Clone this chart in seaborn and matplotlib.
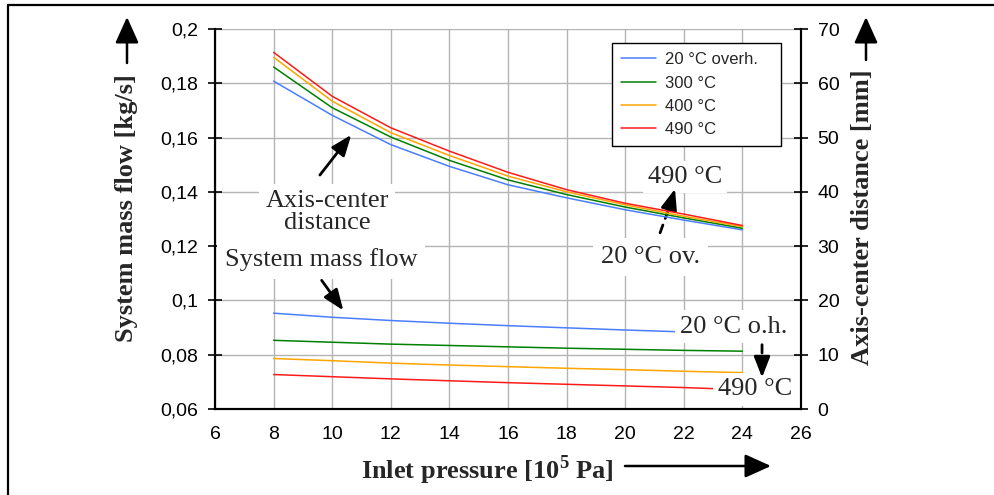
import seaborn as sns
import matplotlib.pyplot as plt
from matplotlib.lines import Line2D
from matplotlib.patches import FancyArrowPatch
from matplotlib.ticker import FuncFormatter

# inlet pressure [10^5 Pa]
pressure = [8, 10, 12, 14, 16, 18, 20, 22, 24]

# axis-center distance [mm], right axis
dist_20 = [60.4, 54.1, 48.7, 44.7, 41.3, 38.9, 36.7, 34.8, 33.0]
dist_300 = [63.0, 55.5, 50.1, 45.8, 42.2, 39.5, 37.2, 35.2, 33.3]
dist_400 = [64.8, 56.7, 50.9, 46.7, 42.9, 40.0, 37.6, 35.5, 33.6]
dist_490 = [65.7, 57.6, 51.8, 47.5, 43.6, 40.4, 37.9, 35.9, 33.8]

# system mass flow [kg/s], left axis (series end at different pressures)
p_flow_20 = [8, 10, 12, 14, 16, 18, 20, 22]
flow_20 = [0.0953, 0.0938, 0.0926, 0.0916, 0.0907, 0.0899, 0.0891, 0.0884]
p_flow_300 = [8, 10, 12, 14, 16, 18, 20, 22, 24]
flow_300 = [0.0853, 0.0846, 0.0839, 0.0834, 0.0829, 0.0824, 0.0820, 0.0816, 0.0813]
p_flow_400 = [8, 10, 12, 14, 16, 18, 20, 22, 24]
flow_400 = [0.0786, 0.0778, 0.0769, 0.0762, 0.0756, 0.0750, 0.0745, 0.0739, 0.0734]
p_flow_490 = [8, 10, 12, 14, 16, 18, 20, 22, 23]
flow_490 = [0.0727, 0.0719, 0.0711, 0.0704, 0.0697, 0.0691, 0.0685, 0.0679, 0.0675]

labels = ['20 °C overh.', '300 °C', '400 °C', '490 °C']
colors = ['#4a7dff', '#008000', '#ffa500', '#ff1a1a']

sns.set_style('white')
plt.rcParams['font.family'] = ['Liberation Sans', 'DejaVu Sans']
plt.rcParams['mathtext.fontset'] = 'custom'
plt.rcParams['mathtext.rm'] = 'Liberation Serif'
plt.rcParams['mathtext.bf'] = 'Liberation Serif:bold'

W, H = 995, 495
fig = plt.figure(figsize=(W / 100, H / 100), dpi=100)
ax = fig.add_axes([215 / W, 1 - 409 / H, 586 / W, 380 / H])
ax2 = ax.twinx()

flows = [(p_flow_20, flow_20), (p_flow_300, flow_300), (p_flow_400, flow_400), (p_flow_490, flow_490)]
dists = [dist_20, dist_300, dist_400, dist_490]

for (px, fy), c in zip(flows, colors):
    sns.lineplot(x=px, y=fy, ax=ax, color=c, linewidth=1.1, legend=False)
for d, c, lab in zip(dists, colors, labels):
    sns.lineplot(x=pressure, y=d, ax=ax2, color=c, linewidth=1.1, label=lab)

# axes ranges and ticks
ax.set_xlim(6, 26)
ax.set_ylim(0.06, 0.2)
ax2.set_ylim(0, 70)
ax.set_xticks(range(6, 27, 2))
ax.set_yticks([0.06, 0.08, 0.1, 0.12, 0.14, 0.16, 0.18, 0.2])
ax2.set_yticks(range(0, 71, 10))
comma = FuncFormatter(lambda v, pos: f"{v:g}".replace('.', ','))
ax.yaxis.set_major_formatter(comma)

ax.grid(True, color='#b4b4b4', linewidth=1.0)
ax2.grid(False)
ax.set_xlabel('')
ax.set_ylabel('')
ax2.set_ylabel('')

for a in (ax, ax2):
    a.spines['top'].set_visible(False)
    for s in ('left', 'right', 'bottom'):
        a.spines[s].set_linewidth(1.5)
        a.spines[s].set_color('black')
ax.tick_params(axis='both', direction='inout', length=10, width=1.2, labelsize=14, pad=7, colors='black')
ax2.tick_params(axis='y', direction='inout', length=10, width=1.2, labelsize=14, pad=7, colors='black')

# legend box stretched to the reference width
leg = ax2.legend(loc='upper left', bbox_to_anchor=(0.6775, 0.5, 0.288, 0.463), mode='expand',
                 borderaxespad=0, fontsize=12, fancybox=False, edgecolor='black', framealpha=1,
                 handlelength=2.1, labelspacing=0.5, borderpad=0.55, handletextpad=0.5)
leg.get_frame().set_linewidth(1.0)

# annotations
serif = 'Liberation Serif'
fs = 19
box = dict(boxstyle='square,pad=0.2', facecolor='white', edgecolor='none')
arrow = dict(arrowstyle='-|>,head_length=0.9,head_width=0.35', color='black', lw=2, mutation_scale=14,
             shrinkA=0, shrinkB=0)
dashed = dict(arrowstyle='-', color='black', lw=2, linestyle=(0, (3, 2.5)), shrinkA=0, shrinkB=0)

ax.text(9.82, 0.1326, 'Axis-center\ndistance', ha='center', va='center', family=serif,
        fontsize=fs, linespacing=0.95, bbox=dict(boxstyle='square,pad=0.25', facecolor='white', edgecolor='none'),
        zorder=5)
ax.annotate('', xy=(10.65, 0.161), xytext=(9.58, 0.1462), arrowprops=arrow, zorder=6)

ax.text(9.62, 0.1152, 'System mass flow', ha='center', va='center', family=serif,
        fontsize=fs, bbox=dict(boxstyle='square,pad=0.3', facecolor='white', edgecolor='none'), zorder=5)
ax.annotate('', xy=(10.38, 0.0963), xytext=(9.64, 0.1074), arrowprops=arrow, zorder=6)

ax.text(22.04, 0.1455, '490 °C', ha='center', va='center', family=serif, fontsize=fs, bbox=box, zorder=5)
ax.text(20.85, 0.1161, '20 °C ov.', ha='center', va='center', family=serif, fontsize=fs,
        bbox=dict(boxstyle='square,pad=0.3', facecolor='white', edgecolor='none'), zorder=5)
ax.annotate('', xy=(21.55, 0.1357), xytext=(21.19, 0.1249), arrowprops=dashed, zorder=6)
ax.annotate('', xy=(21.70, 0.1411), xytext=(21.56, 0.1360), arrowprops=arrow, zorder=6)

ax.text(23.71, 0.0903, '20 °C o.h.', ha='center', va='center', family=serif, fontsize=fs, bbox=box, zorder=5)
ax.text(24.43, 0.0672, '490 °C', ha='center', va='center', family=serif, fontsize=fs, bbox=box, zorder=5)
ax.annotate('', xy=(24.67, 0.0760), xytext=(24.67, 0.0837), arrowprops=dashed, zorder=6)
ax.annotate('', xy=(24.67, 0.0716), xytext=(24.67, 0.0762), arrowprops=arrow, zorder=6)

# axis titles with arrows
fig.text(127 / W, 1 - 208 / H, 'System mass flow [kg/s]', rotation=90, ha='center', va='center',
         family=serif, fontweight='bold', fontsize=19)
fig.text(863 / W, 1 - 217 / H, 'Axis-center distance [mm]', rotation=90, ha='center', va='center',
         family=serif, fontweight='bold', fontsize=19)
fig.text(487 / W, 1 - 470 / H, r'Inlet pressure [10$^{\mathbf{5}}$ Pa]', ha='center', va='center',
         family=serif, fontweight='bold', fontsize=19)

big_arrow = dict(arrowstyle='-|>,head_length=1.0,head_width=0.45', color='black', lw=1.8, mutation_scale=16,
                 shrinkA=0, shrinkB=0)
fig.add_artist(FancyArrowPatch((127 / W, 1 - 63 / H), (127 / W, 1 - 17 / H),
                               transform=fig.transFigure, **big_arrow))
fig.add_artist(FancyArrowPatch((866 / W, 1 - 60 / H), (866 / W, 1 - 17 / H),
                               transform=fig.transFigure, **big_arrow))
fig.add_artist(FancyArrowPatch((625 / W, 1 - 466 / H), (771 / W, 1 - 466 / H),
                               transform=fig.transFigure, **big_arrow))

# frame around the figure (top and left edges visible)
fig.add_artist(Line2D([8 / W, 1.0], [1 - 5 / H, 1 - 5 / H], transform=fig.transFigure, color='black', lw=1.6))
fig.add_artist(Line2D([8 / W, 8 / W], [0.0, 1 - 5 / H], transform=fig.transFigure, color='black', lw=1.6))

fig.savefig('out.png', dpi=100, facecolor='white')
